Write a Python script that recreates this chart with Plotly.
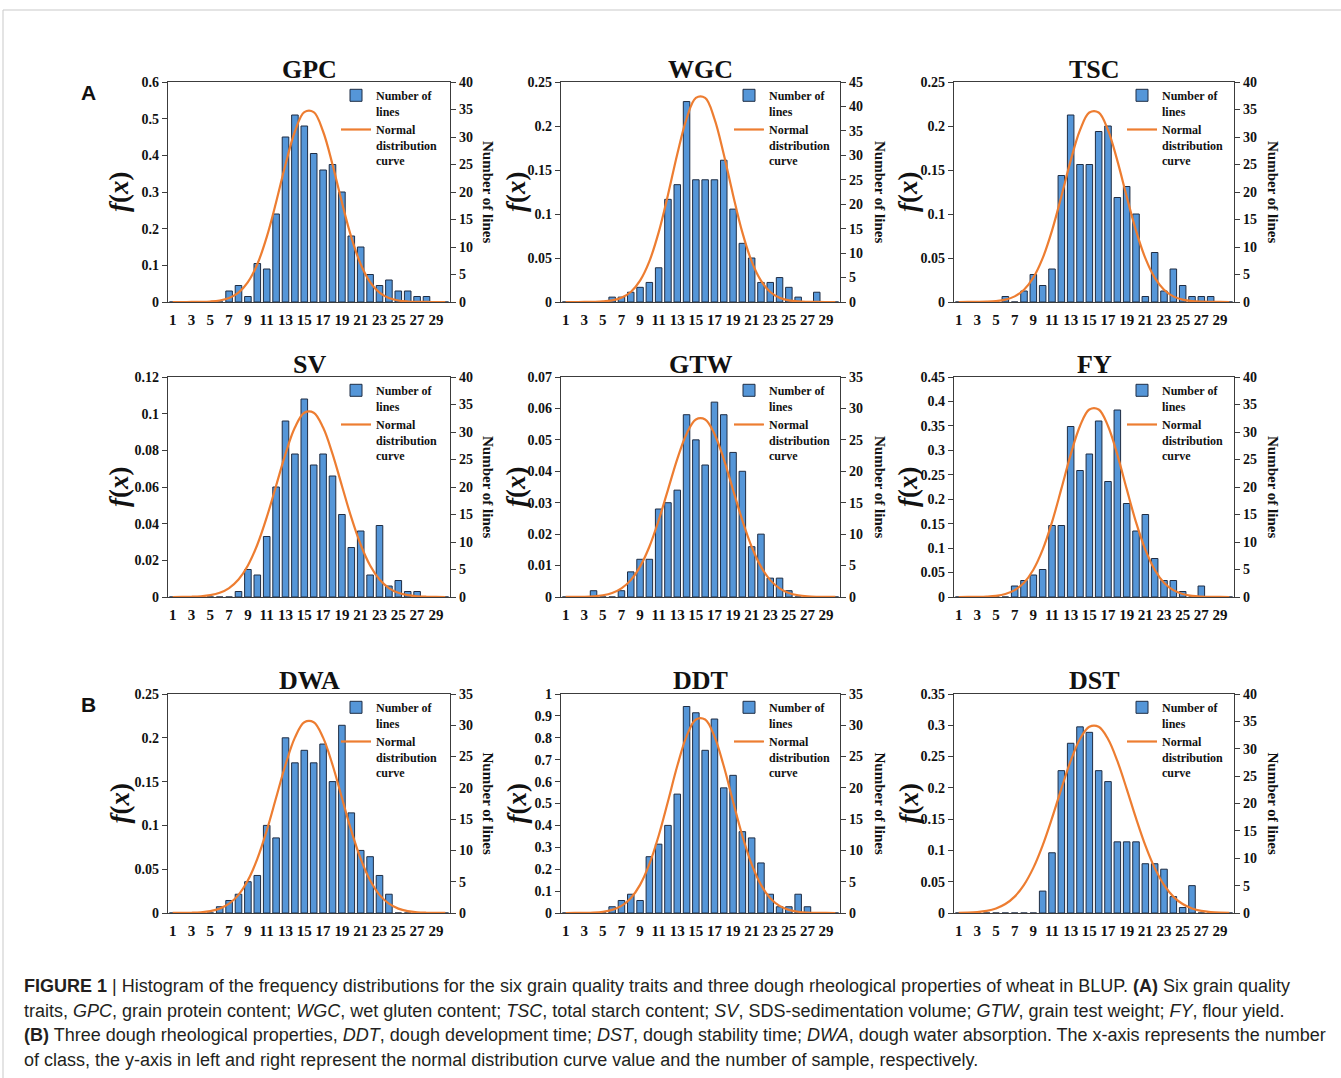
import plotly.graph_objects as go

# ---------------- data ----------------
classes = list(range(1, 31))
x_tick_vals = [1, 3, 5, 7, 9, 11, 13, 15, 17, 19, 21, 23, 25, 27, 29]
x_tick_labels = ["1", "3", "5", "7", "9", "11", "13", "15", "17", "19", "21", "23", "25", "27", "29"]

panel_names = ["GPC", "WGC", "TSC", "SV", "GTW", "FY", "DWA", "DDT", "DST"]

# number of lines per class (right axis)
GPC_counts = [0, 0, 0, 0, 0, 0, 2, 3, 1, 7, 6, 16, 30, 34, 32, 27, 24, 25, 20, 12, 10, 5, 3, 4, 2, 2, 1, 1, 0, 0]
WGC_counts = [0, 0, 0, 0, 0, 1, 1, 2, 3, 4, 7, 21, 24, 41, 25, 25, 25, 29, 19, 12, 9, 4, 4, 5, 3, 1, 0, 2, 0, 0]
TSC_counts = [0, 0, 0, 0, 0, 1, 0, 2, 5, 3, 6, 23, 34, 25, 25, 31, 32, 19, 21, 16, 1, 9, 2, 6, 3, 1, 1, 1, 0, 0]
SV_counts = [0, 0, 0, 0, 0, 0, 0, 1, 5, 4, 11, 20, 32, 26, 36, 24, 26, 22, 15, 9, 12, 4, 13, 2, 3, 1, 1, 0, 0, 0]
GTW_counts = [0, 0, 0, 1, 0, 0, 1, 4, 6, 6, 14, 15, 17, 29, 25, 21, 31, 29, 23, 20, 8, 10, 3, 3, 1, 0, 0, 0, 0, 0]
FY_counts = [0, 0, 0, 0, 0, 0, 2, 3, 4, 5, 13, 13, 31, 23, 26, 32, 21, 34, 17, 12, 15, 7, 3, 3, 1, 0, 2, 0, 0, 0]
DWA_counts = [0, 0, 0, 0, 0, 1, 2, 3, 5, 6, 14, 12, 28, 24, 26, 24, 27, 21, 30, 16, 10, 9, 6, 3, 0, 0, 0, 0, 0, 0]
DDT_counts = [0, 0, 0, 0, 0, 1, 2, 3, 2, 9, 11, 14, 19, 33, 32, 26, 31, 20, 22, 13, 12, 8, 3, 1, 1, 3, 1, 0, 0, 0]
DST_counts = [0, 0, 0, 0, 0, 0, 0, 0, 0, 4, 11, 26, 31, 34, 33, 26, 24, 13, 13, 13, 9, 9, 8, 3, 1, 5, 0, 0, 0, 0]

# normal distribution curve value f(x) per class (left axis)
GPC_fx = [0.00001, 0.00003, 0.00012, 0.00043, 0.0014, 0.0041, 0.0108, 0.0255, 0.0542, 0.103, 0.177, 0.272, 0.375, 0.465, 0.518,
          0.518, 0.465, 0.375, 0.272, 0.177, 0.103, 0.0542, 0.0255, 0.0108, 0.0041, 0.0014, 0.00043, 0.00012, 0.00003, 0.00001]
WGC_fx = [0.0, 0.00001, 0.00005, 0.00019, 0.00063, 0.00184, 0.00484, 0.0114, 0.0243, 0.0462, 0.0791, 0.1217, 0.1680, 0.2082, 0.2319,
          0.2319, 0.2082, 0.1680, 0.1217, 0.0791, 0.0462, 0.0243, 0.0114, 0.00484, 0.00184, 0.00063, 0.00019, 0.00005, 0.00001, 0.0]
TSC_fx = [0.00001, 0.00003, 0.00011, 0.00034, 0.00100, 0.00266, 0.0064, 0.0140, 0.0277, 0.0498, 0.0811, 0.1199, 0.1607, 0.1953, 0.2154,
          0.2154, 0.1953, 0.1607, 0.1199, 0.0811, 0.0498, 0.0277, 0.0140, 0.0064, 0.00266, 0.00100, 0.00034, 0.00011, 0.00003, 0.00001]
SV_fx = [0.00001, 0.00005, 0.00014, 0.00039, 0.00099, 0.00229, 0.00489, 0.00956, 0.0172, 0.0285, 0.0434, 0.0607, 0.0781, 0.0924, 0.1005,
         0.1005, 0.0924, 0.0781, 0.0607, 0.0434, 0.0285, 0.0172, 0.00956, 0.00489, 0.00229, 0.00099, 0.00039, 0.00014, 0.00005, 0.00001]
GTW_fx = [0.00001, 0.00003, 0.00008, 0.00022, 0.00056, 0.00129, 0.00275, 0.00537, 0.00968, 0.0160, 0.0244, 0.0341, 0.0439, 0.0519, 0.0565,
          0.0565, 0.0519, 0.0439, 0.0341, 0.0244, 0.0160, 0.00968, 0.00537, 0.00275, 0.00129, 0.00056, 0.00022, 0.00008, 0.00003, 0.00001]
FY_fx = [0.00002, 0.00009, 0.00030, 0.00090, 0.00246, 0.00615, 0.0141, 0.0293, 0.0558, 0.0968, 0.1531, 0.2211, 0.2912, 0.3499, 0.3836,
         0.3836, 0.3499, 0.2912, 0.2211, 0.1531, 0.0968, 0.0558, 0.0293, 0.0141, 0.00615, 0.00246, 0.00090, 0.00030, 0.00009, 0.00002]
DWA_fx = [0.00003, 0.00010, 0.00031, 0.00085, 0.00214, 0.00497, 0.0106, 0.0207, 0.0373, 0.0617, 0.0940, 0.1315, 0.1692, 0.2002, 0.2177,
          0.2177, 0.2002, 0.1692, 0.1315, 0.0940, 0.0617, 0.0373, 0.0207, 0.0106, 0.00497, 0.00214, 0.00085, 0.00031, 0.00010, 0.00003]
DDT_fx = [0.00006, 0.00021, 0.00068, 0.00207, 0.00566, 0.0142, 0.0325, 0.0676, 0.1285, 0.2230, 0.3528, 0.5094, 0.6709, 0.8063, 0.8838,
          0.8838, 0.8063, 0.6709, 0.5094, 0.3528, 0.2230, 0.1285, 0.0676, 0.0325, 0.0142, 0.00566, 0.00207, 0.00068, 0.00021, 0.00006]
DST_fx = [0.00025, 0.00064, 0.00154, 0.00347, 0.00728, 0.0143, 0.0262, 0.0450, 0.0721, 0.1081, 0.1515, 0.1985, 0.2430, 0.2781, 0.2975,
          0.2975, 0.2781, 0.2430, 0.1985, 0.1515, 0.1081, 0.0721, 0.0450, 0.0262, 0.0143, 0.00728, 0.00347, 0.00154, 0.00064, 0.00025]

# left axis (f(x)) ticks
GPC_left_ticks = [0, 0.1, 0.2, 0.3, 0.4, 0.5, 0.6]
GPC_left_labels = ["0", "0.1", "0.2", "0.3", "0.4", "0.5", "0.6"]
WGC_left_ticks = [0, 0.05, 0.1, 0.15, 0.2, 0.25]
WGC_left_labels = ["0", "0.05", "0.1", "0.15", "0.2", "0.25"]
TSC_left_ticks = [0, 0.05, 0.1, 0.15, 0.2, 0.25]
TSC_left_labels = ["0", "0.05", "0.1", "0.15", "0.2", "0.25"]
SV_left_ticks = [0, 0.02, 0.04, 0.06, 0.08, 0.1, 0.12]
SV_left_labels = ["0", "0.02", "0.04", "0.06", "0.08", "0.1", "0.12"]
GTW_left_ticks = [0, 0.01, 0.02, 0.03, 0.04, 0.05, 0.06, 0.07]
GTW_left_labels = ["0", "0.01", "0.02", "0.03", "0.04", "0.05", "0.06", "0.07"]
FY_left_ticks = [0, 0.05, 0.1, 0.15, 0.2, 0.25, 0.3, 0.35, 0.4, 0.45]
FY_left_labels = ["0", "0.05", "0.1", "0.15", "0.2", "0.25", "0.3", "0.35", "0.4", "0.45"]
DWA_left_ticks = [0, 0.05, 0.1, 0.15, 0.2, 0.25]
DWA_left_labels = ["0", "0.05", "0.1", "0.15", "0.2", "0.25"]
DDT_left_ticks = [0, 0.1, 0.2, 0.3, 0.4, 0.5, 0.6, 0.7, 0.8, 0.9, 1]
DDT_left_labels = ["0", "0.1", "0.2", "0.3", "0.4", "0.5", "0.6", "0.7", "0.8", "0.9", "1"]
DST_left_ticks = [0, 0.05, 0.1, 0.15, 0.2, 0.25, 0.3, 0.35]
DST_left_labels = ["0", "0.05", "0.1", "0.15", "0.2", "0.25", "0.3", "0.35"]

# right axis (number of lines) ticks
GPC_right_ticks = [0, 5, 10, 15, 20, 25, 30, 35, 40]
WGC_right_ticks = [0, 5, 10, 15, 20, 25, 30, 35, 40, 45]
TSC_right_ticks = [0, 5, 10, 15, 20, 25, 30, 35, 40]
SV_right_ticks = [0, 5, 10, 15, 20, 25, 30, 35, 40]
GTW_right_ticks = [0, 5, 10, 15, 20, 25, 30, 35]
FY_right_ticks = [0, 5, 10, 15, 20, 25, 30, 35, 40]
DWA_right_ticks = [0, 5, 10, 15, 20, 25, 30, 35]
DDT_right_ticks = [0, 5, 10, 15, 20, 25, 30, 35]
DST_right_ticks = [0, 5, 10, 15, 20, 25, 30, 35, 40]

caption_lines = [
    "<b>FIGURE 1</b> | Histogram of the frequency distributions for the six grain quality traits and three dough rheological properties of wheat in BLUP. <b>(A)</b> Six grain quality",
    "traits, <i>GPC</i>, grain protein content; <i>WGC</i>, wet gluten content; <i>TSC</i>, total starch content; <i>SV</i>, SDS-sedimentation volume; <i>GTW</i>, grain test weight; <i>FY</i>, flour yield.",
    "<b>(B)</b> Three dough rheological properties, <i>DDT</i>, dough development time; <i>DST</i>, dough stability time; <i>DWA</i>, dough water absorption. The x-axis represents the number",
    "of class, the y-axis in left and right represent the normal distribution curve value and the number of sample, respectively.",
]

# ---------------- assembly ----------------
panels = [
    (GPC_counts, GPC_fx, GPC_left_ticks, GPC_left_labels, GPC_right_ticks),
    (WGC_counts, WGC_fx, WGC_left_ticks, WGC_left_labels, WGC_right_ticks),
    (TSC_counts, TSC_fx, TSC_left_ticks, TSC_left_labels, TSC_right_ticks),
    (SV_counts, SV_fx, SV_left_ticks, SV_left_labels, SV_right_ticks),
    (GTW_counts, GTW_fx, GTW_left_ticks, GTW_left_labels, GTW_right_ticks),
    (FY_counts, FY_fx, FY_left_ticks, FY_left_labels, FY_right_ticks),
    (DWA_counts, DWA_fx, DWA_left_ticks, DWA_left_labels, DWA_right_ticks),
    (DDT_counts, DDT_fx, DDT_left_ticks, DDT_left_labels, DDT_right_ticks),
    (DST_counts, DST_fx, DST_left_ticks, DST_left_labels, DST_right_ticks),
]

# full-page figure; the body margin is removed in the page script below
W, H = 1341, 1078
col_px = [(168, 450), (561, 840), (954, 1234)]
row_px = [(82, 302), (377, 597), (694, 913)]
title_py = [69, 364, 680]
fx_title_px = [119, 516, 908]
nl_title_px = [488, 880, 1273]


def px(p):
    return p / W


def py(p):
    return 1 - p / H


SERIF = "Liberation Serif, Times New Roman, serif"
SANS = "Liberation Sans, Arial, sans-serif"
AXCOL = "#3c3c3c"
BARCOL = "#5596D8"
BAREDGE = "#1f2d44"
CURVE = "#ED7D31"

fig = go.Figure()
layout = dict(
    width=W, height=H,
    margin=dict(l=0, r=0, t=0, b=0, pad=0, autoexpand=False),
    paper_bgcolor="white", plot_bgcolor="white",
    bargap=0.3,
    font=dict(family=SERIF, color="#111111"),
)
annotations = []

for i, (counts, fx, lt, ll, rt) in enumerate(panels):
    r, c = divmod(i, 3)
    xa = f"x{i + 1}"
    yb = f"y{2 * i + 1}"
    yo = f"y{2 * i + 2}"
    leg = "legend" if i == 0 else f"legend{i + 1}"

    fig.add_trace(go.Bar(
        x=classes, y=counts, xaxis=xa, yaxis=yb,
        name="Number of<br>lines", legend=leg,
        marker=dict(color=BARCOL, line=dict(color=BAREDGE, width=1)),
    ))
    fig.add_trace(go.Scatter(
        x=classes, y=fx, xaxis=xa, yaxis=yo, mode="lines",
        name="Normal<br>distribution<br>curve", legend=leg,
        line=dict(color=CURVE, width=2.2, shape="spline", smoothing=1.0),
    ))

    x0, x1 = col_px[c]
    top, bot = row_px[r]
    layout[f"xaxis{i + 1}"] = dict(
        domain=[px(x0), px(x1)], anchor=yb, range=[0.5, 30.5], automargin=False,
        tickmode="array", tickvals=x_tick_vals, ticktext=x_tick_labels,
        ticks="", showline=True, linecolor=AXCOL, linewidth=1.2, mirror=True,
        showgrid=False, zeroline=False, fixedrange=True, ticklabelstandoff=4,
        tickfont=dict(family=SERIF, size=15, weight="bold", color="#111111"),
    )
    layout[f"yaxis{2 * i + 1}"] = dict(
        domain=[py(bot), py(top)], anchor=xa, side="right", range=[0, rt[-1]],
        automargin=False, tickmode="array", tickvals=rt,
        ticks="outside", ticklen=5, tickcolor=AXCOL,
        showline=True, linecolor=AXCOL, linewidth=1.2,
        showgrid=False, zeroline=False,
        tickfont=dict(family=SERIF, size=14, weight="bold", color="#111111"),
    )
    layout[f"yaxis{2 * i + 2}"] = dict(
        overlaying=yb, anchor=xa, side="left", range=[0, lt[-1]],
        automargin=False, tickmode="array", tickvals=lt, ticktext=ll,
        ticks="outside", ticklen=5, tickcolor=AXCOL,
        showline=True, linecolor=AXCOL, linewidth=1.2,
        showgrid=False, zeroline=False,
        tickfont=dict(family=SERIF, size=14, weight="bold", color="#111111"),
    )
    layout[leg] = dict(
        x=px(x0 + 168), y=py(top - 1), xanchor="left", yanchor="top",
        bgcolor="rgba(0,0,0,0)", borderwidth=0, valign="top",
        font=dict(family=SERIF, size=12, weight="bold", color="#111111"),
        itemwidth=30,
    )

    annotations.append(dict(
        text=f"<b>{panel_names[i]}</b>", x=px((x0 + x1) / 2), y=py(title_py[r]),
        xref="paper", yref="paper", showarrow=False, xanchor="center", yanchor="middle",
        font=dict(family=SERIF, size=26, color="#111111"),
    ))
    annotations.append(dict(
        text="<b><i>f</i>(<i>x</i>)</b>", x=px(fx_title_px[c]), y=py((top + bot) / 2),
        xref="paper", yref="paper", showarrow=False, textangle=-90,
        xanchor="center", yanchor="middle",
        font=dict(family=SERIF, size=27, color="#111111"),
    ))
    annotations.append(dict(
        text="<b>Number of lines</b>", x=px(nl_title_px[c]), y=py((top + bot) / 2),
        xref="paper", yref="paper", showarrow=False, textangle=90,
        xanchor="center", yanchor="middle",
        font=dict(family=SERIF, size=15, color="#111111"),
    ))

# panel letters
for letter, ypix in (("A", 92), ("B", 704)):
    annotations.append(dict(
        text=f"<b>{letter}</b>", x=px(88), y=py(ypix), xref="paper", yref="paper",
        showarrow=False, xanchor="center", yanchor="middle",
        font=dict(family=SANS, size=21, color="#111111"),
    ))

# caption
for k, line in enumerate(caption_lines):
    annotations.append(dict(
        text=line, x=px(22), y=py(986 + 24.6 * k), xref="paper", yref="paper",
        showarrow=False, xanchor="left", yanchor="middle", align="left",
        font=dict(family=SANS, size=18.0, color="#231f20"),
    ))

layout["annotations"] = annotations
layout["shapes"] = [dict(
    type="rect", xref="paper", yref="paper",
    x0=px(3), x1=px(1360), y0=py(10), y1=py(1100),
    line=dict(color="#c9c9c9", width=1), fillcolor="rgba(0,0,0,0)", layer="below",
)]

fig.update_layout(**layout)
fig.write_html(
    "out.html",
    config={"displayModeBar": False},
    post_script="document.body.style.margin='0';document.body.style.overflow='hidden';",
)
